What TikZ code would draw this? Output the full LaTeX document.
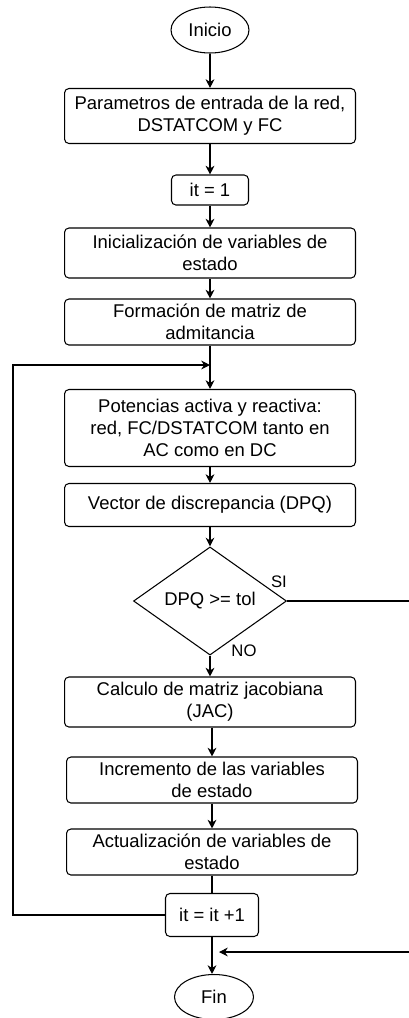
\documentclass[tikz,border=0pt]{standalone}
\usepackage{fontspec}
\setmainfont{Liberation Sans}
\usetikzlibrary{shapes.geometric,arrows.meta}

\tikzset{
        texto/.style={font=\fontsize{10.5}{12.6}\selectfont},
        caja/.style={texto, draw, rounded corners=2.5pt, align=center, minimum width=5.82cm, inner sep=1pt},
        terminal/.style={texto, draw, ellipse, minimum width=1.56cm, minimum height=0.92cm, inner sep=0pt},
        decision/.style={texto, draw, diamond, minimum width=3.06cm, minimum height=1.8cm, inner sep=0pt},
        etiqueta/.style={font=\fontsize{9.5}{11}\selectfont}
}

\begin{document}
\begin{tikzpicture}[x=0.02cm, y=-0.02cm, line width=0.6pt, >={Stealth[length=5pt,width=5pt]}]
        \useasboundingbox (0,0) rectangle (409,1018);

        \node[terminal] (inicio) at (210,30) {Inicio};
        \node[caja, minimum height=1.1cm] (param) at (210,116) {Parametros de entrada de la red,\\DSTATCOM y FC};
        \node[caja, minimum width=1.54cm, minimum height=0.6cm] (it1) at (210,190) {it = 1};
        \node[caja, minimum height=1cm] (inic) at (210,253) {Inicialización de variables de\\estado};
        \node[caja, minimum height=0.92cm] (form) at (210,322) {Formación de matriz de\\admitancia};
        \node[caja, minimum height=1.54cm] (pot) at (210,428) {Potencias activa y reactiva:\\red, FC/DSTATCOM tanto en\\AC como en DC};
        \node[caja, minimum height=0.86cm] (vec) at (210,505) {Vector de discrepancia (DPQ)};
        \node[decision] (dec) at (210,601) {DPQ >= tol};
        \node[caja, minimum height=1cm] (jac) at (210,702) {Calculo de matriz jacobiana\\(JAC)};
        \node[caja, minimum height=0.92cm] (incr) at (212,780) {Incremento de las variables\\de estado};
        \node[caja, minimum height=0.92cm] (act) at (212,852) {Actualización de variables de\\estado};
        \node[caja, minimum width=1.86cm, minimum height=0.86cm] (it2) at (212,915) {it = it +1};
        \node[terminal, minimum width=1.58cm, minimum height=0.9cm] (fin) at (214,997) {Fin};

        \node[etiqueta] (si) at (279,582) {SI};
        \node[etiqueta] (no) at (244,651) {NO};

        \coordinate (entrada) at (210,365);
        \coordinate (izq) at (13,365);
        \coordinate (der) at (415,952);
        \coordinate (llegada) at (219,952);

        \draw[->] (inicio) -- (param);
        \draw[->] (param) -- (it1);
        \draw[->] (it1) -- (inic);
        \draw[->] (inic) -- (form);
        \draw[->] (form) -- (pot);
        \draw[->] (pot) -- (vec);
        \draw[->] (vec) -- (dec);
        \draw[->] (dec) -- (jac);
        \draw[->] (jac.south -| incr) -- (incr);
        \draw[->] (incr) -- (act);
        \draw (act) -- (it2);
        \draw[->] (it2) -- (fin.north -| it2);
        \draw[->] (it2.west) -| (izq) -- (entrada);
        \draw[->] (dec.east) -| (der) -- (llegada);
\end{tikzpicture}
\end{document}
